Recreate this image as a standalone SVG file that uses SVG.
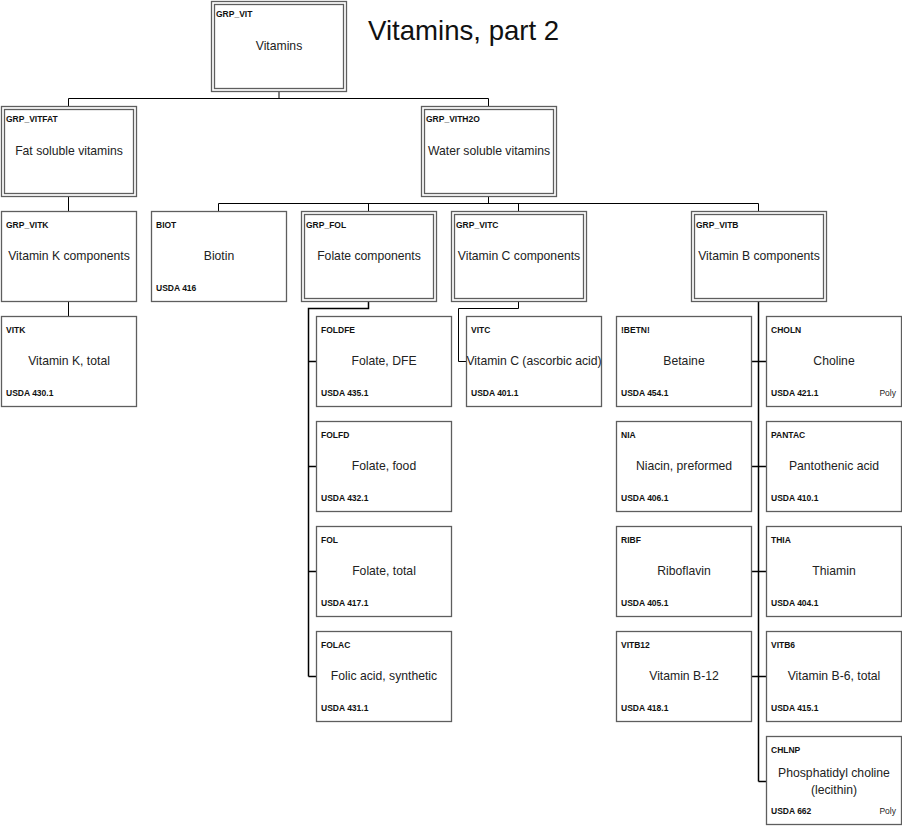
<svg xmlns="http://www.w3.org/2000/svg" width="902" height="827" viewBox="0 0 902 827">
<style>
.bx{fill:#fff;stroke:#5e5e5e;stroke-width:1.3}
.code{font-family:"Liberation Sans",Arial,sans-serif;font-size:8.5px;font-weight:bold;fill:#111}
.usda{font-family:"Liberation Sans",Arial,sans-serif;font-size:8.5px;font-weight:bold;fill:#111}
.poly{font-family:"Liberation Sans",Arial,sans-serif;font-size:8.5px;fill:#222;text-anchor:end}
.lbl{font-family:"Liberation Sans",Arial,sans-serif;font-size:12.2px;fill:#222;text-anchor:middle}
.title{font-family:"Liberation Sans",Arial,sans-serif;font-size:27.6px;fill:#111}
.cn{fill:none;stroke:#000;stroke-width:1}
.cn2{fill:none;stroke:#000;stroke-width:1.5}
</style>
<rect width="902" height="827" fill="#fff"/>
<text class="title" x="368" y="40">Vitamins, part 2</text>
<g id="connectors">
<path class="cn" d="M279,91.5V98.5M68.5,98.5H488.5M68.5,98.5V106M488.5,98.5V106"/>
<path class="cn" d="M68.5,196V211"/>
<path class="cn" d="M488.5,196V203.5M218.5,203.5H758.5M218.5,203.5V211M368.5,203.5V211M518.5,203.5V211M758.5,203.5V211"/>
<path class="cn" d="M68.5,301V316"/>
<path class="cn2" d="M368.5,301V308.5H308.5V676.5M308.5,361.5H316M308.5,466.5H316M308.5,571.5H316M308.5,676.5H316"/>
<path class="cn" d="M518.5,301V308.5H458.5V361.5H466"/>
<path class="cn2" d="M758.5,301V781.5M751,361.5H766M751,466.5H766M751,571.5H766M751,676.5H766M758.5,781.5H766"/>
</g>
<g id="GRP_VIT"><rect class="bx" x="211.5" y="1.5" width="135" height="90"/><rect class="bx" x="214.5" y="4.5" width="129" height="84"/><text class="code" x="216" y="17">GRP_VIT</text><text class="lbl" x="279" y="50">Vitamins</text></g>
<g id="GRP_VITFAT"><rect class="bx" x="1.5" y="106.5" width="135" height="90"/><rect class="bx" x="4.5" y="109.5" width="129" height="84"/><text class="code" x="6" y="122">GRP_VITFAT</text><text class="lbl" x="69" y="155">Fat soluble vitamins</text></g>
<g id="GRP_VITH2O"><rect class="bx" x="421.5" y="106.5" width="135" height="90"/><rect class="bx" x="424.5" y="109.5" width="129" height="84"/><text class="code" x="426" y="122">GRP_VITH2O</text><text class="lbl" x="489" y="155">Water soluble vitamins</text></g>
<g id="GRP_VITK"><rect class="bx" x="1.5" y="211.5" width="135" height="90"/><text class="code" x="6" y="228">GRP_VITK</text><text class="lbl" x="69" y="260">Vitamin K components</text></g>
<g id="BIOT"><rect class="bx" x="151.5" y="211.5" width="135" height="90"/><text class="code" x="156" y="228">BIOT</text><text class="lbl" x="219" y="260">Biotin</text><text class="usda" x="156" y="291">USDA 416</text></g>
<g id="GRP_FOL"><rect class="bx" x="301.5" y="211.5" width="135" height="90"/><rect class="bx" x="304.5" y="214.5" width="129" height="84"/><text class="code" x="306" y="228">GRP_FOL</text><text class="lbl" x="369" y="260">Folate components</text></g>
<g id="GRP_VITC"><rect class="bx" x="451.5" y="211.5" width="135" height="90"/><rect class="bx" x="454.5" y="214.5" width="129" height="84"/><text class="code" x="456" y="228">GRP_VITC</text><text class="lbl" x="519" y="260">Vitamin C components</text></g>
<g id="GRP_VITB"><rect class="bx" x="691.5" y="211.5" width="135" height="90"/><rect class="bx" x="694.5" y="214.5" width="129" height="84"/><text class="code" x="696" y="228">GRP_VITB</text><text class="lbl" x="759" y="260">Vitamin B components</text></g>
<g id="VITK"><rect class="bx" x="1.5" y="316.5" width="135" height="90"/><text class="code" x="6" y="333">VITK</text><text class="lbl" x="69" y="365">Vitamin K, total</text><text class="usda" x="6" y="396">USDA 430.1</text></g>
<g id="FOLDFE"><rect class="bx" x="316.5" y="316.5" width="135" height="90"/><text class="code" x="321" y="333">FOLDFE</text><text class="lbl" x="384" y="365">Folate, DFE</text><text class="usda" x="321" y="396">USDA 435.1</text></g>
<g id="FOLFD"><rect class="bx" x="316.5" y="421.5" width="135" height="90"/><text class="code" x="321" y="438">FOLFD</text><text class="lbl" x="384" y="470">Folate, food</text><text class="usda" x="321" y="501">USDA 432.1</text></g>
<g id="FOL"><rect class="bx" x="316.5" y="526.5" width="135" height="90"/><text class="code" x="321" y="543">FOL</text><text class="lbl" x="384" y="575">Folate, total</text><text class="usda" x="321" y="606">USDA 417.1</text></g>
<g id="FOLAC"><rect class="bx" x="316.5" y="631.5" width="135" height="90"/><text class="code" x="321" y="648">FOLAC</text><text class="lbl" x="384" y="680">Folic acid, synthetic</text><text class="usda" x="321" y="711">USDA 431.1</text></g>
<g id="VITC"><rect class="bx" x="466.5" y="316.5" width="135" height="90"/><text class="code" x="471" y="333">VITC</text><text class="lbl" x="534" y="365">Vitamin C (ascorbic acid)</text><text class="usda" x="471" y="396">USDA 401.1</text></g>
<g id="BETN"><rect class="bx" x="616.5" y="316.5" width="135" height="90"/><text class="code" x="621" y="333">!BETN!</text><text class="lbl" x="684" y="365">Betaine</text><text class="usda" x="621" y="396">USDA 454.1</text></g>
<g id="NIA"><rect class="bx" x="616.5" y="421.5" width="135" height="90"/><text class="code" x="621" y="438">NIA</text><text class="lbl" x="684" y="470">Niacin, preformed</text><text class="usda" x="621" y="501">USDA 406.1</text></g>
<g id="RIBF"><rect class="bx" x="616.5" y="526.5" width="135" height="90"/><text class="code" x="621" y="543">RIBF</text><text class="lbl" x="684" y="575">Riboflavin</text><text class="usda" x="621" y="606">USDA 405.1</text></g>
<g id="VITB12"><rect class="bx" x="616.5" y="631.5" width="135" height="90"/><text class="code" x="621" y="648">VITB12</text><text class="lbl" x="684" y="680">Vitamin B-12</text><text class="usda" x="621" y="711">USDA 418.1</text></g>
<g id="CHOLN"><rect class="bx" x="766.5" y="316.5" width="135" height="90"/><text class="code" x="771" y="333">CHOLN</text><text class="lbl" x="834" y="365">Choline</text><text class="usda" x="771" y="396">USDA 421.1</text><text class="poly" x="896" y="396">Poly</text></g>
<g id="PANTAC"><rect class="bx" x="766.5" y="421.5" width="135" height="90"/><text class="code" x="771" y="438">PANTAC</text><text class="lbl" x="834" y="470">Pantothenic acid</text><text class="usda" x="771" y="501">USDA 410.1</text></g>
<g id="THIA"><rect class="bx" x="766.5" y="526.5" width="135" height="90"/><text class="code" x="771" y="543">THIA</text><text class="lbl" x="834" y="575">Thiamin</text><text class="usda" x="771" y="606">USDA 404.1</text></g>
<g id="VITB6"><rect class="bx" x="766.5" y="631.5" width="135" height="90"/><text class="code" x="771" y="648">VITB6</text><text class="lbl" x="834" y="680">Vitamin B-6, total</text><text class="usda" x="771" y="711">USDA 415.1</text></g>
<g id="CHLNP"><rect class="bx" x="766.5" y="736.5" width="135" height="88"/><text class="code" x="771" y="753">CHLNP</text><text class="lbl" x="834" y="777">Phosphatidyl choline</text><text class="lbl" x="834" y="794">(lecithin)</text><text class="usda" x="771" y="814">USDA 662</text><text class="poly" x="896" y="814">Poly</text></g>
</svg>
